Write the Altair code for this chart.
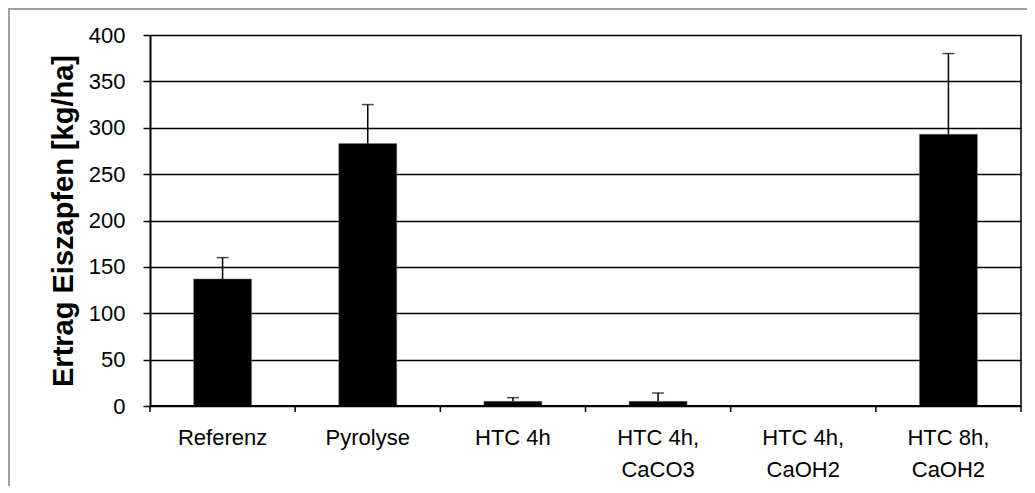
import altair as alt
import pandas as pd

categories = ["Referenz", "Pyrolyse", "HTC 4h", "HTC 4h,\nCaCO3", "HTC 4h,\nCaOH2", "HTC 8h,\nCaOH2"]
values = [137, 283, 5, 5, 0, 293]
errors = [23, 42, 4, 9, 0, 87]
y_ticks = [0, 50, 100, 150, 200, 250, 300, 350, 400]

df = pd.DataFrame({"cat": categories, "val": values, "err": errors})
df["top"] = df["val"] + df["err"]

FONT = "Liberation Sans"
x_scale = alt.Scale(domain=categories, paddingInner=0, paddingOuter=0)
y_scale = alt.Scale(domain=[0, 400], nice=False)

base = alt.Chart(df)

bars = base.mark_bar(color="black", stroke="#777777", strokeWidth=0.5, width=58).encode(
    x=alt.X("cat:N", scale=x_scale, sort=categories, title=None,
            axis=alt.Axis(labelExpr="split(datum.label, '\\n')", labelAngle=0,
                          ticks=False, domain=False, labelPadding=21,
                          labelFontSize=22, labelFont=FONT, labelColor="black",
                          labelLineHeight=32, labelBaseline="top")),
    y=alt.Y("val:Q", scale=y_scale,
            title="Ertrag Eiszapfen [kg/ha]",
            axis=alt.Axis(values=y_ticks, grid=True, gridColor="black", gridWidth=1.5,
                          domainColor="black", domainWidth=2, tickColor="black",
                          tickSize=7, tickWidth=1.5, labelPadding=18,
                          labelFontSize=22, labelFont=FONT, labelColor="black",
                          titleFont=FONT, titleFontSize=29, titleFontWeight="bold",
                          titleColor="black", titlePadding=10)),
)

err_df = base.transform_filter("datum.err > 0")
err_rule = err_df.mark_rule(color="black", strokeWidth=1.5).encode(
    x=alt.X("cat:N", scale=x_scale, sort=categories),
    y=alt.Y("val:Q", scale=y_scale),
    y2="top:Q",
)
err_cap = err_df.mark_tick(color="black", thickness=1.5, size=12, orient="horizontal").encode(
    x=alt.X("cat:N", scale=x_scale, sort=categories),
    y=alt.Y("top:Q", scale=y_scale),
)

# category boundary ticks below the x axis
xticks = base.mark_rule(color="black", strokeWidth=1.5).encode(
    x=alt.X("cat:N", scale=x_scale, sort=categories, bandPosition=0),
    y=alt.value(371), y2=alt.value(377),
)
frame_df = pd.DataFrame({"a": [0]})
last_tick = alt.Chart(frame_df).mark_rule(color="black", strokeWidth=1.5).encode(
    x=alt.value(871), y=alt.value(0), y2=alt.value(377),
)
# x axis line
x_domain = alt.Chart(frame_df).mark_rule(color="black", strokeWidth=2).encode(
    x=alt.value(0), x2=alt.value(871), y=alt.value(371),
)
# outer chart frame (grey)
frame_left = alt.Chart(frame_df).mark_rule(color="#a0a0a0", strokeWidth=2).encode(
    x=alt.value(-141), y=alt.value(-26), y2=alt.value(600),
)
frame_top = alt.Chart(frame_df).mark_rule(color="#a0a0a0", strokeWidth=2).encode(
    x=alt.value(-142), x2=alt.value(1000), y=alt.value(-26),
)

chart = alt.layer(
    frame_left, frame_top, bars, err_rule, err_cap, x_domain, xticks, last_tick
).properties(
    width=871, height=371,
    autosize=alt.AutoSizeParams(type="none"),
    padding={"left": 142, "top": 27, "right": 6, "bottom": 80},
).configure_view(stroke="black", strokeWidth=1.5).configure(background="white")

chart.save("out.html", embed_options={"renderer": "svg", "actions": False})
